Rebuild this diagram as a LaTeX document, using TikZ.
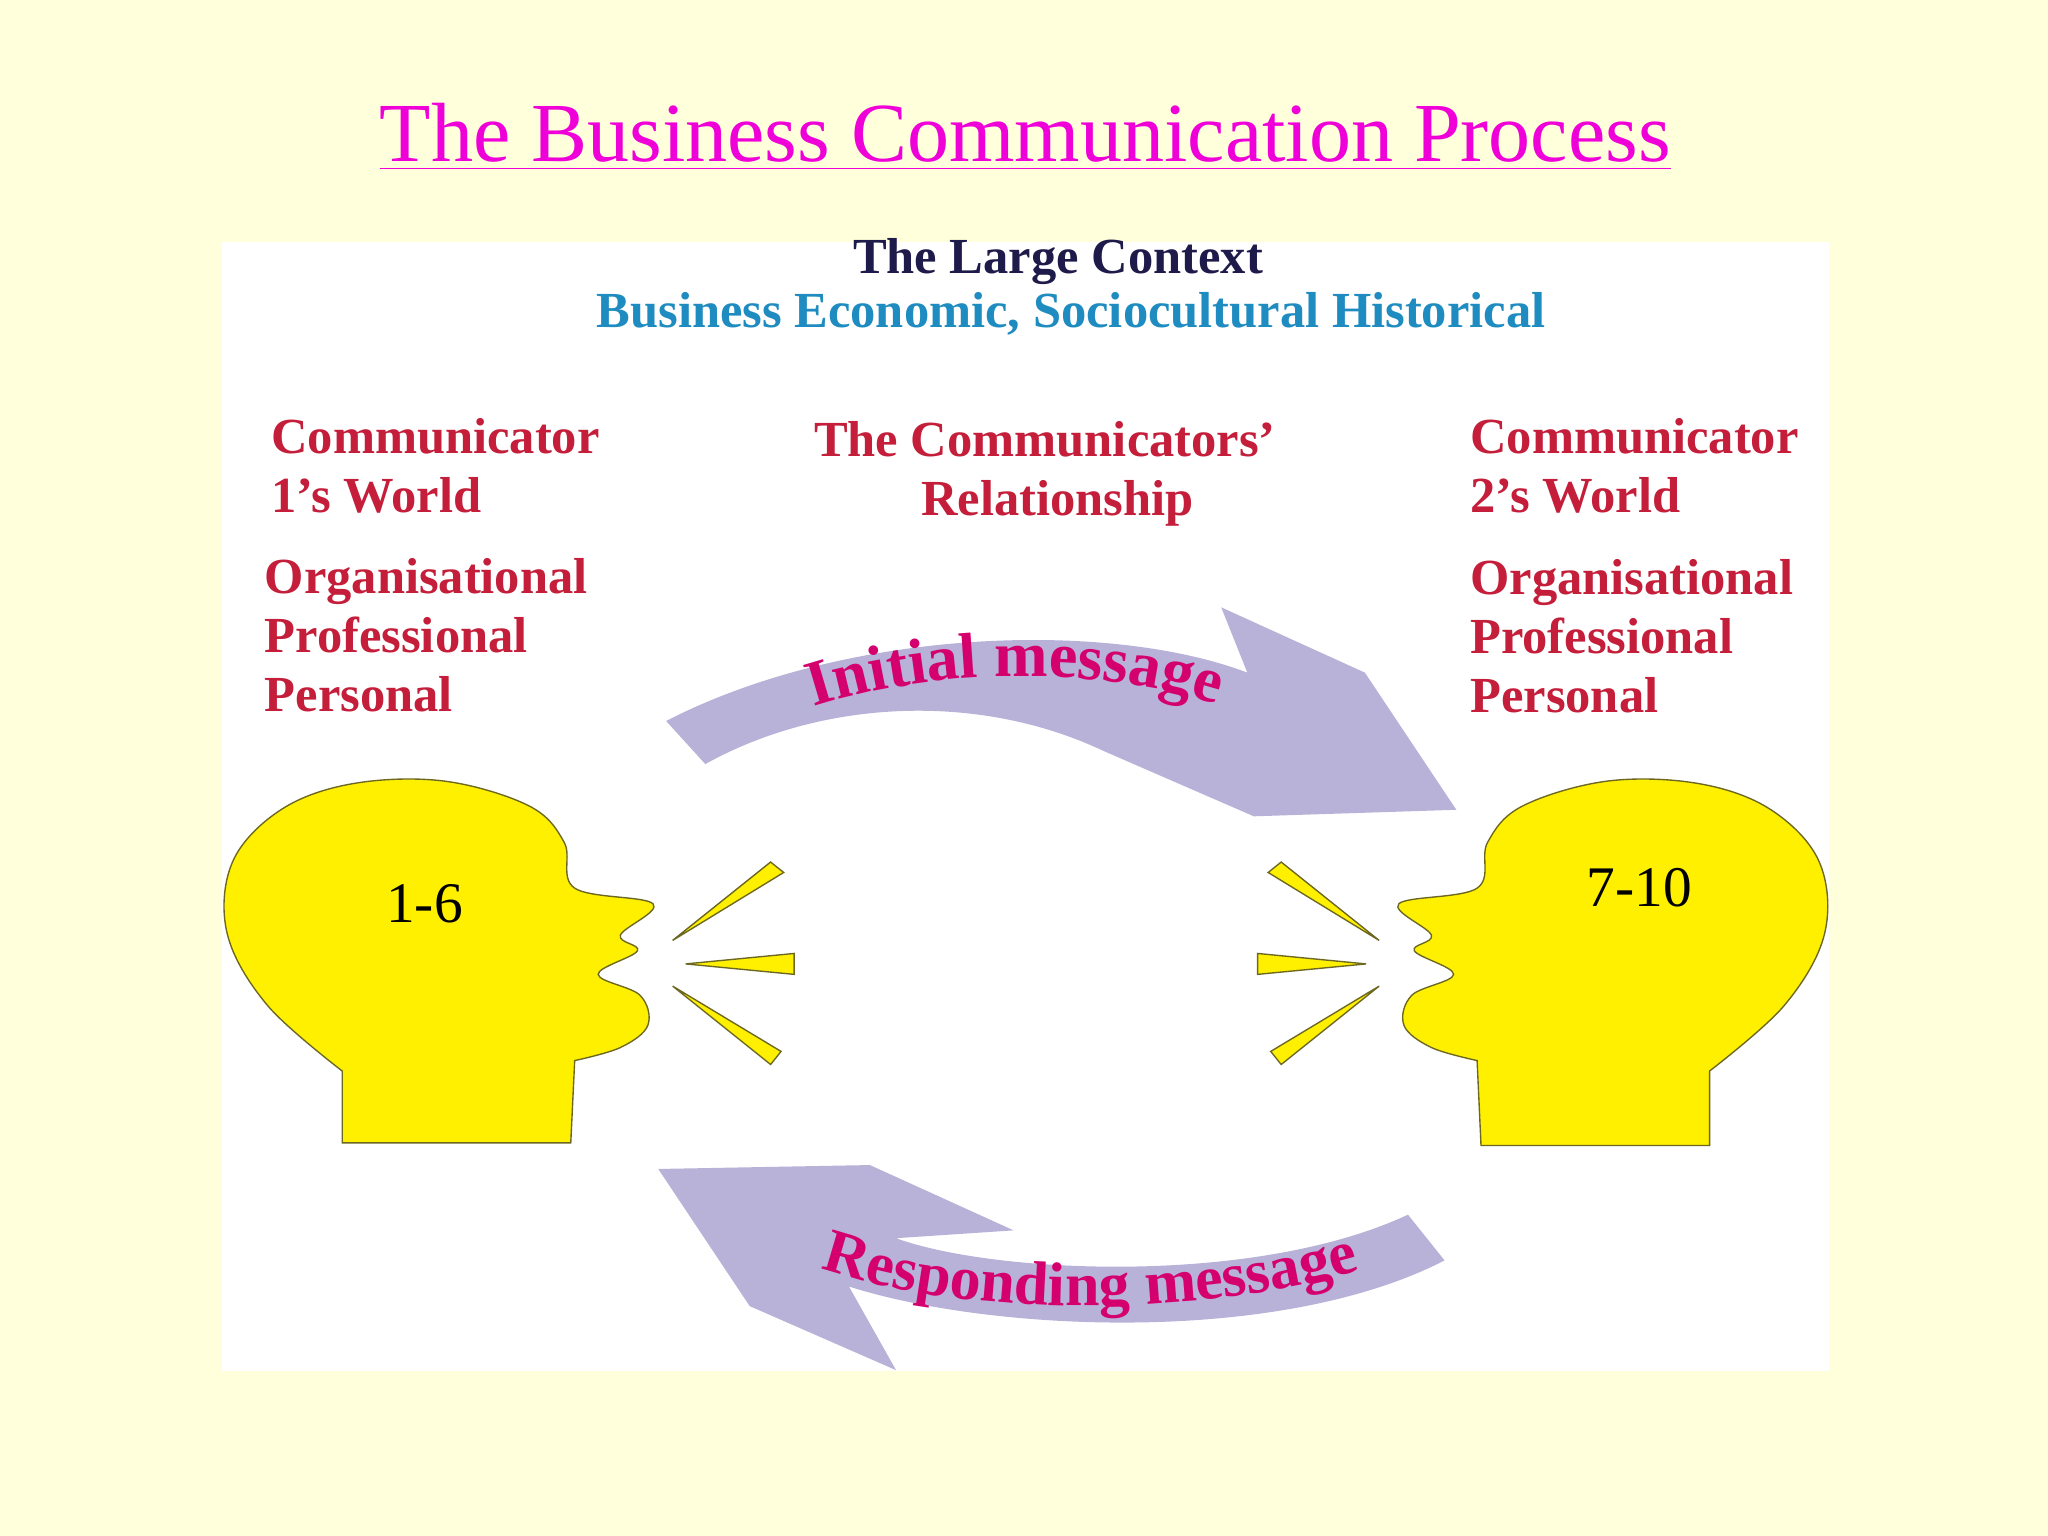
\documentclass[tikz,border=0pt]{standalone}
\usepackage{fontspec}
\setmainfont{Liberation Serif}
\usetikzlibrary{decorations.text}
\definecolor{bg}{HTML}{FFFFDC}
\definecolor{lav}{HTML}{B8B2D8}
\definecolor{crim}{HTML}{C41E3A}
\definecolor{mag}{HTML}{F000D8}
\definecolor{navy}{HTML}{1E1A4A}
\definecolor{teal}{HTML}{1E8CC0}
\definecolor{pink}{HTML}{D4006E}
\definecolor{headyel}{HTML}{FFF000}
\tikzset{
  lbl/.style={font=\bfseries\fontsize{11}{12.8}\selectfont, text=crim, align=left, anchor=north west, inner sep=0},
  headshape/.style={fill=headyel, draw=olive!70!black, line width=0.3pt},
  wedge/.style={fill=headyel, draw=olive!70!black, line width=0.3pt},
  arr/.style={fill=lav, draw=none}
}
\begin{document}
\begin{tikzpicture}[x=0.01cm,y=-0.01cm]
\useasboundingbox (0,0) rectangle (1568,1176);
\fill[bg] (0,0) rectangle (1568,1176);
\fill[white] (170,185) rectangle (1400,1050);
% title
\node[font=\fontsize{18.3}{22}\selectfont, text=mag, inner sep=0] (title) at (785,105) {\underline{The Business Communication Process}};
\node[font=\bfseries\fontsize{11}{12}\selectfont, text=navy, inner sep=0] (ctx) at (810,200) {The Large Context};
\node[font=\bfseries\fontsize{11}{12}\selectfont, text=teal, inner sep=0] (ctx2) at (820,240) {Business Economic, Sociocultural Historical};
\node[lbl] (c1) at (207,320) {Communicator\\ 1’s World};
\node[lbl] (o1) at (202,427) {Organisational\\Professional\\Personal};
\node[lbl] (c2) at (1125,320) {Communicator\\2’s World};
\node[lbl] (o2) at (1125,428) {Organisational\\Professional\\Personal};
\node[lbl, align=center, anchor=north] (rel) at (800,322) {The Communicators’\\ \ \ Relationship};
% top arrow
\path[arr] (510,552) .. controls (650,480) and (850,475) .. (955,515) -- (935,465) -- (1045,515) -- (1115,620) -- (960,625) -- (845,575) .. controls (750,530) and (630,535) .. (540,585) -- cycle;
\path[decorate, decoration={text along path, text align=center, text={|\bfseries\fontsize{14}{15}\selectfont\color{pink}|Initial message}}] (585,556) .. controls (690,508) and (860,503) .. (970,554);
% bottom arrow
\path[arr] (504,895) -- (666,892) -- (776,942) -- (686,948) .. controls (760,975) and (960,985) .. (1078,930) -- (1106,965) .. controls (980,1030) and (760,1020) .. (650,985) -- (686,1049) -- (574,1000) -- cycle;
\path[decorate, decoration={text along path, text align=center, text={|\bfseries\fontsize{13.5}{15}\selectfont\color{pink}|Responding message}}] (605,962) .. controls (720,1012) and (930,1012) .. (1065,965);
% heads
\path[headshape] (262,875) -- plot[smooth, tension=0.6] coordinates {(262,820) (205,770) (174,715) (178,660) (215,620) (270,600) (340,598) (405,617) (432,645) (440,680) (500,692) (475,716) (488,728) (458,746) (490,762) (496,785) (475,802) (440,812)} -- (437,875) -- cycle;
\begin{scope}[xshift=15.7cm, xscale=-1]
\path[headshape] (262,877) -- plot[smooth, tension=0.6] coordinates {(262,820) (205,770) (174,715) (178,660) (215,620) (270,600) (340,598) (405,617) (432,645) (440,680) (500,692) (475,716) (488,728) (458,746) (490,762) (496,785) (475,802) (440,812)} -- (437,877) -- cycle;
\path[wedge] (515,720) -- (590,660) -- (600,668) -- cycle;
\path[wedge] (525,738) -- (608,730) -- (608,746) -- cycle;
\path[wedge] (515,755) -- (598,805) -- (590,815) -- cycle;
\end{scope}
\path[wedge] (515,720) -- (590,660) -- (600,668) -- cycle;
\path[wedge] (525,738) -- (608,730) -- (608,746) -- cycle;
\path[wedge] (515,755) -- (598,805) -- (590,815) -- cycle;
\node[font=\fontsize{12.5}{12}\selectfont, inner sep=0] (n1) at (325,692) {1-6};
\node[font=\fontsize{12.5}{12}\selectfont, inner sep=0] (n2) at (1255,680) {7-10};
\end{tikzpicture}
\end{document}
